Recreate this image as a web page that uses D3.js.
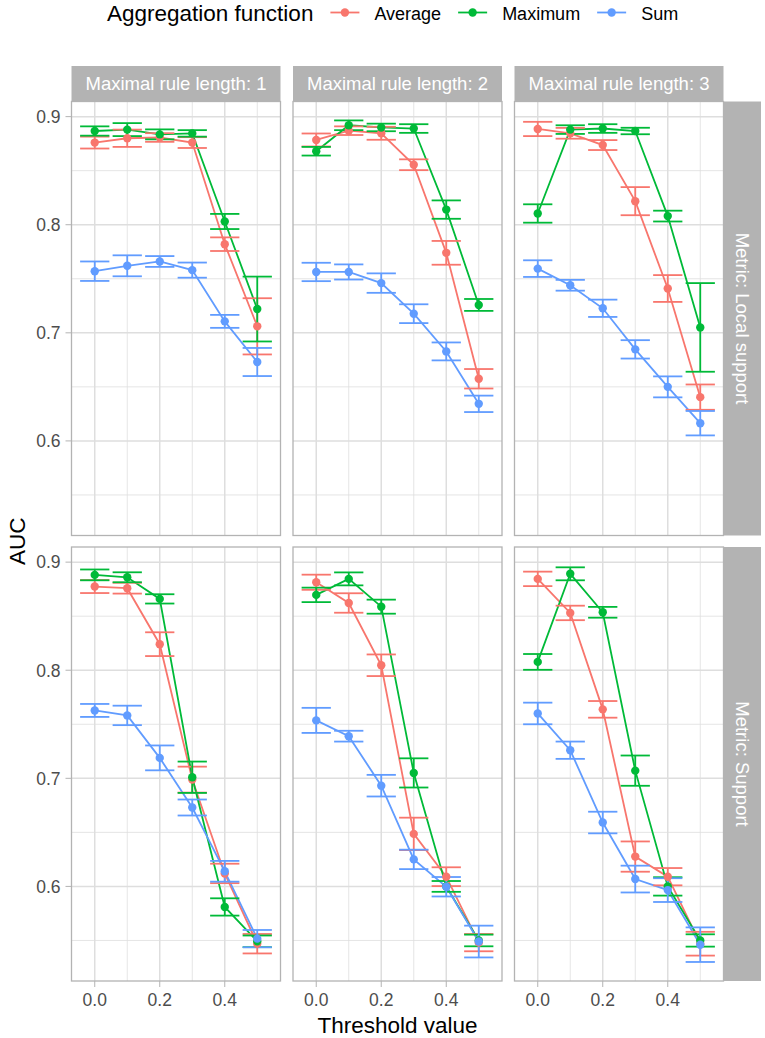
<!DOCTYPE html>
<html>
<head>
<meta charset="utf-8">
<script src="https://cdn.jsdelivr.net/npm/d3@7"></script>
<style>
  body { margin: 0; background: #fff; }
  text { font-family: "Liberation Sans", Arial, sans-serif; }
</style>
</head>
<body>
<div id="chart"></div>
<script>
// ---- data ----
var thresholds = [0, 0.1, 0.2, 0.3, 0.4, 0.5];
var ruleLengths = ["Maximal rule length: 1", "Maximal rule length: 2", "Maximal rule length: 3"];
var metrics = ["Metric: Local support", "Metric: Support"];
var functions = ["Average", "Maximum", "Sum"];
var colors = ["#F8766D", "#00BA38", "#619CFF"];
var yTicks = [0.6, 0.7, 0.8, 0.9];
var yMinor = [0.55, 0.65, 0.75, 0.85];
var xTicks = [0, 0.2, 0.4];
var xMinor = [0.1, 0.3, 0.5];

// rows = rule length 1, 2, 3
var localAverage = [
  [0.876, 0.880, 0.8807, 0.876, 0.782, 0.706],
  [0.8784, 0.887, 0.8846, 0.8555, 0.774, 0.6575],
  [0.8886, 0.8846, 0.8737, 0.8218, 0.741, 0.6405]
];
var localAverageErr = [
  [0.0055, 0.008, 0.004, 0.005, 0.0063, 0.026],
  [0.006, 0.004, 0.006, 0.005, 0.011, 0.009],
  [0.0066, 0.005, 0.0046, 0.013, 0.0124, 0.0117]
];
var localMaximum = [
  [0.8867, 0.888, 0.8836, 0.8845, 0.803, 0.722],
  [0.868, 0.892, 0.890, 0.889, 0.814, 0.7258],
  [0.8104, 0.888, 0.889, 0.8867, 0.808, 0.705]
];
var localMaximumErr = [
  [0.0043, 0.006, 0.0046, 0.003, 0.007, 0.03],
  [0.004, 0.0045, 0.0035, 0.004, 0.0085, 0.0055],
  [0.0085, 0.004, 0.004, 0.003, 0.005, 0.041]
];
var localSum = [
  [0.757, 0.762, 0.766, 0.758, 0.7106, 0.673],
  [0.7563, 0.7563, 0.746, 0.7177, 0.6828, 0.6343],
  [0.7594, 0.744, 0.7227, 0.6847, 0.650, 0.6164]
];
var localSumErr = [
  [0.009, 0.0097, 0.005, 0.007, 0.006, 0.013],
  [0.0085, 0.007, 0.009, 0.0087, 0.0083, 0.0076],
  [0.0077, 0.005, 0.008, 0.0085, 0.0097, 0.0113]
];
var supportAverage = [
  [0.8774, 0.8759, 0.8241, 0.6988, 0.612, 0.547],
  [0.8814, 0.8622, 0.8046, 0.6486, 0.609, 0.548],
  [0.8845, 0.853, 0.7638, 0.6276, 0.609, 0.547]
];
var supportAverageErr = [
  [0.006, 0.005, 0.011, 0.012, 0.009, 0.009],
  [0.007, 0.009, 0.01, 0.015, 0.0087, 0.008],
  [0.0067, 0.0067, 0.0077, 0.014, 0.008, 0.011]
];
var supportMaximum = [
  [0.8882, 0.886, 0.866, 0.701, 0.581, 0.5492],
  [0.8697, 0.8845, 0.8588, 0.705, 0.600, 0.550],
  [0.8077, 0.8892, 0.8536, 0.7071, 0.600, 0.550]
];
var supportMaximumErr = [
  [0.005, 0.0046, 0.0043, 0.0145, 0.008, 0.0054],
  [0.0067, 0.006, 0.0065, 0.0135, 0.005, 0.0054],
  [0.0073, 0.006, 0.005, 0.014, 0.0085, 0.0057]
];
var supportSum = [
  [0.7628, 0.7582, 0.7189, 0.673, 0.614, 0.5517],
  [0.7536, 0.739, 0.6932, 0.625, 0.5997, 0.549],
  [0.760, 0.726, 0.6591, 0.6068, 0.5966, 0.5461]
];
var supportSumErr = [
  [0.006, 0.009, 0.0115, 0.0074, 0.0096, 0.008],
  [0.0116, 0.005, 0.01, 0.009, 0.009, 0.0147],
  [0.01, 0.008, 0.01, 0.0124, 0.011, 0.016]
];

var means = [[localAverage, localMaximum, localSum], [supportAverage, supportMaximum, supportSum]];
var errs = [[localAverageErr, localMaximumErr, localSumErr], [supportAverageErr, supportMaximumErr, supportSumErr]];

// ---- layout ----
var W = 765, H = 1038;
var panelLeft = 71.5, panelW = 209, gapX = 12.5;
var panelTops = [101.5, 547], panelH = 434;
var stripH = 35.5, stripW = 37.5;
var capW = 0.045; // half width of error bar caps, in x units
var grid = "#dedede", border = "#b3b3b3";

var svg = d3.select("#chart").append("svg")
  .attr("width", W)
  .attr("height", H);

svg.append("rect").attr("width", W).attr("height", H).attr("fill", "#fff");

var x = d3.scaleLinear().domain([-0.0715, 0.5715]).range([0, panelW]);
var y = d3.scaleLinear().domain([0.5125, 0.914]).range([panelH, 0]);

var line = d3.line()
  .x(function(d) { return x(d.t); })
  .y(function(d) { return y(d.v); });

metrics.forEach(function(metric, r) {
  ruleLengths.forEach(function(len, c) {
    var px = panelLeft + c * (panelW + gapX);
    var py = panelTops[r];
    var g = svg.append("g").attr("transform", "translate(" + px + "," + py + ")");

    // grid
    g.selectAll(".ymin").data(yMinor).enter().append("line")
      .attr("x1", 0).attr("x2", panelW)
      .attr("y1", function(d) { return y(d); }).attr("y2", function(d) { return y(d); })
      .attr("stroke", grid).attr("stroke-width", 0.8);
    g.selectAll(".xmin").data(xMinor).enter().append("line")
      .attr("y1", 0).attr("y2", panelH)
      .attr("x1", function(d) { return x(d); }).attr("x2", function(d) { return x(d); })
      .attr("stroke", grid).attr("stroke-width", 0.8);
    g.selectAll(".ymaj").data(yTicks).enter().append("line")
      .attr("x1", 0).attr("x2", panelW)
      .attr("y1", function(d) { return y(d); }).attr("y2", function(d) { return y(d); })
      .attr("stroke", grid).attr("stroke-width", 1.5);
    g.selectAll(".xmaj").data(xTicks).enter().append("line")
      .attr("y1", 0).attr("y2", panelH)
      .attr("x1", function(d) { return x(d); }).attr("x2", function(d) { return x(d); })
      .attr("stroke", grid).attr("stroke-width", 1.5);

    // series data
    var series = functions.map(function(f, k) {
      return thresholds.map(function(t, i) {
        return { t: t, v: means[r][k][c][i], e: errs[r][k][c][i], k: k };
      });
    });

    // lines
    series.forEach(function(s, k) {
      g.append("path").datum(s)
        .attr("d", line)
        .attr("fill", "none")
        .attr("stroke", colors[k])
        .attr("stroke-width", 1.8);
    });

    // error bars
    series.forEach(function(s, k) {
      var eb = g.selectAll(".eb" + k).data(s).enter().append("g")
        .attr("stroke", colors[k]).attr("stroke-width", 1.8);
      eb.append("line")
        .attr("x1", function(d) { return x(d.t); }).attr("x2", function(d) { return x(d.t); })
        .attr("y1", function(d) { return y(d.v - d.e); }).attr("y2", function(d) { return y(d.v + d.e); });
      eb.append("line")
        .attr("x1", function(d) { return x(d.t - capW); }).attr("x2", function(d) { return x(d.t + capW); })
        .attr("y1", function(d) { return y(d.v + d.e); }).attr("y2", function(d) { return y(d.v + d.e); });
      eb.append("line")
        .attr("x1", function(d) { return x(d.t - capW); }).attr("x2", function(d) { return x(d.t + capW); })
        .attr("y1", function(d) { return y(d.v - d.e); }).attr("y2", function(d) { return y(d.v - d.e); });
    });

    // points
    series.forEach(function(s, k) {
      g.selectAll(".pt" + k).data(s).enter().append("circle")
        .attr("cx", function(d) { return x(d.t); })
        .attr("cy", function(d) { return y(d.v); })
        .attr("r", 4.2)
        .attr("fill", colors[k]);
    });

    // border
    g.append("rect")
      .attr("width", panelW).attr("height", panelH)
      .attr("fill", "none").attr("stroke", border).attr("stroke-width", 1.3);

    // top strips
    if (r === 0) {
      svg.append("rect")
        .attr("x", px).attr("y", py - stripH)
        .attr("width", panelW).attr("height", stripH)
        .attr("fill", border);
      svg.append("text")
        .attr("x", px + panelW / 2).attr("y", py - stripH / 2 + 6.5)
        .attr("text-anchor", "middle")
        .attr("font-size", "18.5px")
        .attr("fill", "#fff")
        .text(len);
    }

    // right strips
    if (c === ruleLengths.length - 1) {
      var sx = px + panelW;
      svg.append("rect")
        .attr("x", sx).attr("y", py)
        .attr("width", stripW).attr("height", panelH)
        .attr("fill", border);
      svg.append("text")
        .attr("transform", "translate(" + (sx + stripW / 2 - 6.5) + "," + (py + panelH / 2) + ") rotate(90)")
        .attr("text-anchor", "middle")
        .attr("font-size", "18.5px")
        .attr("fill", "#fff")
        .text(metric);
    }

    // y axis (left column)
    if (c === 0) {
      var ya = svg.append("g");
      ya.selectAll("line").data(yTicks).enter().append("line")
        .attr("x1", px - 6).attr("x2", px)
        .attr("y1", function(d) { return py + y(d); }).attr("y2", function(d) { return py + y(d); })
        .attr("stroke", border).attr("stroke-width", 1);
      ya.selectAll("text").data(yTicks).enter().append("text")
        .attr("x", px - 11)
        .attr("y", function(d) { return py + y(d) + 6.3; })
        .attr("text-anchor", "end")
        .attr("font-size", "17.5px")
        .attr("fill", "#4d4d4d")
        .text(d3.format(".1f"));
    }

    // x axis (bottom row)
    if (r === metrics.length - 1) {
      var xa = svg.append("g");
      xa.selectAll("line").data(xTicks).enter().append("line")
        .attr("y1", py + panelH).attr("y2", py + panelH + 6)
        .attr("x1", function(d) { return px + x(d); }).attr("x2", function(d) { return px + x(d); })
        .attr("stroke", border).attr("stroke-width", 1);
      xa.selectAll("text").data(xTicks).enter().append("text")
        .attr("x", function(d) { return px + x(d); })
        .attr("y", py + panelH + 25)
        .attr("text-anchor", "middle")
        .attr("font-size", "17.5px")
        .attr("fill", "#4d4d4d")
        .text(d3.format(".1f"));
    }
  });
});

// axis titles
var gridRight = panelLeft + 3 * panelW + 2 * gapX;
svg.append("text")
  .attr("x", (panelLeft + gridRight) / 2).attr("y", 1033)
  .attr("text-anchor", "middle")
  .attr("font-size", "22.5px")
  .attr("fill", "#000")
  .text("Threshold value");

svg.append("text")
  .attr("transform", "translate(25," + ((panelTops[0] + panelTops[1] + panelH) / 2) + ") rotate(-90)")
  .attr("text-anchor", "middle")
  .attr("font-size", "22.5px")
  .attr("fill", "#000")
  .text("AUC");

// legend
var legend = svg.append("g");
var title = legend.append("text")
  .attr("x", 107).attr("y", 21)
  .attr("font-size", "22.5px")
  .attr("fill", "#000")
  .text("Aggregation function");
var lx = 107 + title.node().getComputedTextLength() + 17;
functions.forEach(function(f, k) {
  legend.append("line")
    .attr("x1", lx).attr("x2", lx + 29)
    .attr("y1", 12.5).attr("y2", 12.5)
    .attr("stroke", colors[k]).attr("stroke-width", 1.8);
  legend.append("circle")
    .attr("cx", lx + 14.5).attr("cy", 12.5).attr("r", 4.2)
    .attr("fill", colors[k]);
  var t = legend.append("text")
    .attr("x", lx + 44).attr("y", 19.5)
    .attr("font-size", "18px")
    .attr("fill", "#000")
    .text(f);
  lx += 44 + t.node().getComputedTextLength() + 17;
});
</script>
</body>
</html>
